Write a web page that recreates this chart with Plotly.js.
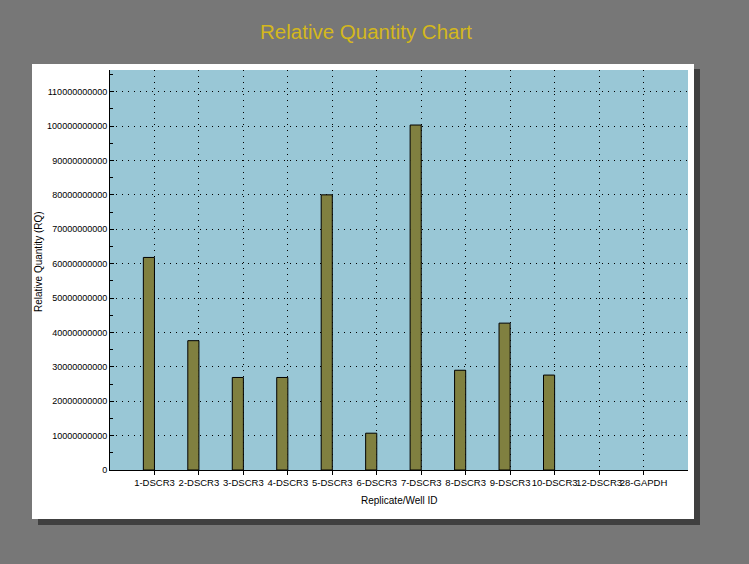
<!DOCTYPE html>
<html>
<head>
<meta charset="utf-8">
<script src="https://cdn.plot.ly/plotly-3.0.1.min.js"></script>
<style>html,body{margin:0;padding:0;background:#777777;}#chart{width:749px;height:564px;}</style>
</head>
<body>
<div id="chart"></div>
<script>
// Data
const categories = ["1-DSCR3","2-DSCR3","3-DSCR3","4-DSCR3","5-DSCR3","6-DSCR3","7-DSCR3","8-DSCR3","9-DSCR3","10-DSCR3","12-DSCR3","28-GAPDH"];
const relQuantity = [61.8e9, 37.6e9, 26.9e9, 26.9e9, 80.0e9, 10.7e9, 100.3e9, 29.0e9, 42.7e9, 27.6e9, 0, 0];
const yTickVals = [0,1e10,2e10,3e10,4e10,5e10,6e10,7e10,8e10,9e10,1e11,1.1e11];
const yTickText = ["0","10000000000","20000000000","30000000000","40000000000","50000000000","60000000000","70000000000","80000000000","90000000000","100000000000","110000000000"];

const W = 749, H = 564;
const L = 110, R = 61, T = 70, B = 94;
const pw = W - L - R, ph = H - T - B;
function px(x){ return (x - L) / pw; }
function py(y){ return (H - B - y) / ph; }

const trace = {
  type: 'bar',
  x: categories,
  y: relQuantity,
  offset: -0.25,
  width: 0.25,
  marker: {color: '#808040', line: {color: '#000000', width: relQuantity.map(v => v > 0 ? 1 : 0)}},
  hoverinfo: 'x+y'
};

const FF = 'Liberation Sans, Arial, sans-serif';

const layout = {
  width: W, height: H,
  margin: {l: L, r: R, t: T, b: B, pad: 0},
  paper_bgcolor: '#777777',
  plot_bgcolor: 'rgba(0,0,0,0)',
  showlegend: false,
  font: {family: FF, color: '#000000', size: 10},
  title: {
    text: 'Relative Quantity Chart',
    font: {family: FF, size: 20.5, color: '#D4B81C'},
    xref: 'container', yref: 'container',
    x: 366 / W, y: 1 - 32 / H, xanchor: 'center', yanchor: 'middle'
  },
  xaxis: {
    type: 'category',
    range: [-1, 12],
    tickangle: 0,
    showline: true, linecolor: '#000000', linewidth: 1,
    ticks: 'outside', ticklen: 4, tickcolor: '#000000', tickwidth: 1,
    showgrid: true, gridcolor: '#000000', gridwidth: 1, griddash: '1px,5px',
    tickfont: {family: FF, size: 9.5, color: '#000000'},
    zeroline: false, fixedrange: true
  },
  yaxis: {
    range: [0, 1.163e11],
    tickmode: 'array', tickvals: yTickVals, ticktext: yTickText,
    showline: true, linecolor: '#000000', linewidth: 1,
    ticks: 'inside', ticklen: 4, tickcolor: '#000000', tickwidth: 1,
    minor: {dtick: 5e9, ticks: 'inside', ticklen: 3, tickcolor: '#000000', showgrid: false},
    showgrid: true, gridcolor: '#000000', gridwidth: 1, griddash: '1px,5px',
    tickfont: {family: FF, size: 9, color: '#000000'},
    zeroline: false, fixedrange: true
  },
  shapes: [
    // shadow
    {type: 'rect', xref: 'paper', yref: 'paper', layer: 'below',
     x0: px(38), x1: px(700), y0: py(525), y1: py(69),
     fillcolor: '#404040', line: {width: 0}},
    // white panel
    {type: 'rect', xref: 'paper', yref: 'paper', layer: 'below',
     x0: px(32), x1: px(694), y0: py(519), y1: py(64),
     fillcolor: '#ffffff', line: {width: 0}},
    // plot area background
    {type: 'rect', xref: 'paper', yref: 'paper', layer: 'below',
     x0: 0, x1: 1, y0: 0, y1: 1,
     fillcolor: '#99C7D6', line: {width: 0}}
  ],
  annotations: [
    {text: 'Replicate/Well ID', xref: 'paper', yref: 'paper',
     x: 0.5, y: py(500), xanchor: 'center', yanchor: 'middle', showarrow: false,
     font: {family: FF, size: 10, color: '#000000'}},
    {text: 'Relative Quantity (RQ)', xref: 'paper', yref: 'paper', textangle: -90,
     x: px(38), y: py(262), xanchor: 'center', yanchor: 'middle', showarrow: false,
     font: {family: FF, size: 10, color: '#000000'}}
  ]
};

Plotly.newPlot('chart', [trace], layout, {displayModeBar: false, staticPlot: true});
</script>
</body>
</html>
